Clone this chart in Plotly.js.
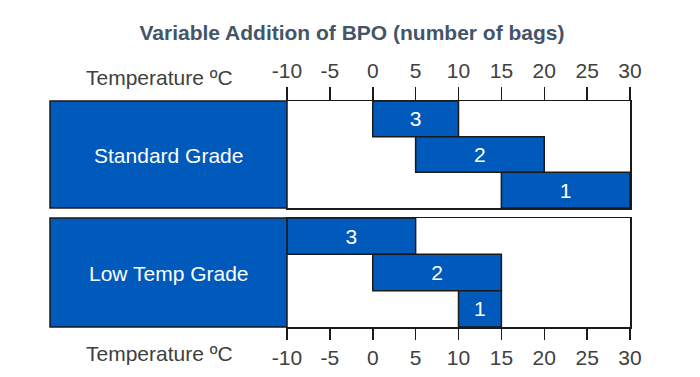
<!DOCTYPE html>
<html>
<head>
<meta charset="utf-8">
<script src="https://cdn.plot.ly/plotly-3.0.1.min.js"></script>
<style>html,body{margin:0;padding:0;background:#fff}#chart{width:700px;height:377px}</style>
</head>
<body>
<div id="chart"></div>
<script>
const titleText = 'Variable Addition of BPO (number of bags)';
const axisLabel = 'Temperature ºC';
const grades = ['Standard Grade', 'Low Temp Grade'];
const bagLabels = ['3', '2', '1'];
const rowIndex = [0, 1, 2];
const stdStart = [0, 5, 15];
const stdEnd = [10, 20, 30];
const lowStart = [-10, 0, 10];
const lowEnd = [5, 15, 15];
const tickVals = [-10, -5, 0, 5, 10, 15, 20, 25, 30];
const tickText = ['-10', '-5', '0', '5', '10', '15', '20', '25', '30'];

const BLUE = '#005ABB';
const EDGE = '#1a1a1a';
const FONT = '"Liberation Sans", Arial, sans-serif';
const FS = 21;

function barTrace(starts, ends, xa, ya) {
  return {
    type: 'bar', orientation: 'h',
    y: rowIndex,
    base: starts,
    x: ends.map((e, i) => e - starts[i]),
    width: 1,
    text: bagLabels,
    textposition: 'inside',
    insidetextanchor: 'middle',
    textangle: 0,
    constraintext: 'none',
    textfont: {color: '#ffffff', size: FS, family: FONT},
    marker: {color: BLUE, line: {color: EDGE, width: 1.5}},
    xaxis: xa, yaxis: ya,
    hoverinfo: 'skip', showlegend: false
  };
}

const W = 700, H = 377;
const xl = 287 / W, xr = 630 / W;
const leftX0 = 50 / W;
const topDom = [1 - 208 / H, 1 - 101 / H];
const botDom = [1 - 327 / H, 1 - 218 / H];

const xCommon = {
  range: [-10, 30], tickvals: tickVals, ticktext: tickText, ticks: 'outside', tickwidth: 1.5,
  tickcolor: EDGE, showline: true, mirror: true, linecolor: EDGE, linewidth: 1.5,
  showgrid: false, zeroline: false, fixedrange: true,
  tickfont: {size: FS, color: '#404040', family: FONT},
  domain: [xl, xr]
};
const yCommon = {
  range: [2.5, -0.5], showticklabels: false, ticks: '', showgrid: false, zeroline: false,
  showline: true, mirror: true, linecolor: EDGE, linewidth: 1.5, fixedrange: true
};

const layout = {
  width: W, height: H,
  margin: {l: 0, r: 0, t: 0, b: 0},
  paper_bgcolor: '#ffffff', plot_bgcolor: '#ffffff',
  barmode: 'overlay',
  title: {text: '<b>' + titleText + '</b>', x: 352 / W, xanchor: 'center', y: 1 - 33 / H, yanchor: 'middle',
          font: {size: FS, color: '#44546A', family: FONT}},
  xaxis: Object.assign({}, xCommon, {side: 'top', anchor: 'y', ticklen: 13}),
  yaxis: Object.assign({}, yCommon, {domain: topDom, anchor: 'x'}),
  xaxis2: Object.assign({}, xCommon, {side: 'bottom', anchor: 'y2', ticklen: 11}),
  yaxis2: Object.assign({}, yCommon, {domain: botDom, anchor: 'x2'}),
  shapes: [
    {type: 'rect', xref: 'paper', yref: 'paper', x0: leftX0, x1: xl, y0: topDom[0], y1: topDom[1],
     fillcolor: BLUE, line: {color: EDGE, width: 1.5}, layer: 'above'},
    {type: 'rect', xref: 'paper', yref: 'paper', x0: leftX0, x1: xl, y0: botDom[0], y1: botDom[1],
     fillcolor: BLUE, line: {color: EDGE, width: 1.5}, layer: 'above'}
  ],
  annotations: [
    {xref: 'paper', yref: 'paper', x: (leftX0 + xl) / 2, y: 1 - 156 / H, text: grades[0],
     showarrow: false, font: {size: FS, color: '#ffffff', family: FONT}, xanchor: 'center', yanchor: 'middle'},
    {xref: 'paper', yref: 'paper', x: (leftX0 + xl) / 2, y: 1 - 273 / H, text: grades[1],
     showarrow: false, font: {size: FS, color: '#ffffff', family: FONT}, xanchor: 'center', yanchor: 'middle'},
    {xref: 'paper', yref: 'paper', x: 159 / W, y: 1 - 78 / H, text: axisLabel, showarrow: false,
     font: {size: FS, color: '#404040', family: FONT}, xanchor: 'center', yanchor: 'middle'},
    {xref: 'paper', yref: 'paper', x: 159 / W, y: 1 - 353 / H, text: axisLabel, showarrow: false,
     font: {size: FS, color: '#404040', family: FONT}, xanchor: 'center', yanchor: 'middle'}
  ]
};

Plotly.newPlot('chart', [
  barTrace(stdStart, stdEnd, 'x', 'y'),
  barTrace(lowStart, lowEnd, 'x2', 'y2')
], layout, {staticPlot: true, displayModeBar: false});
</script>
</body>
</html>
